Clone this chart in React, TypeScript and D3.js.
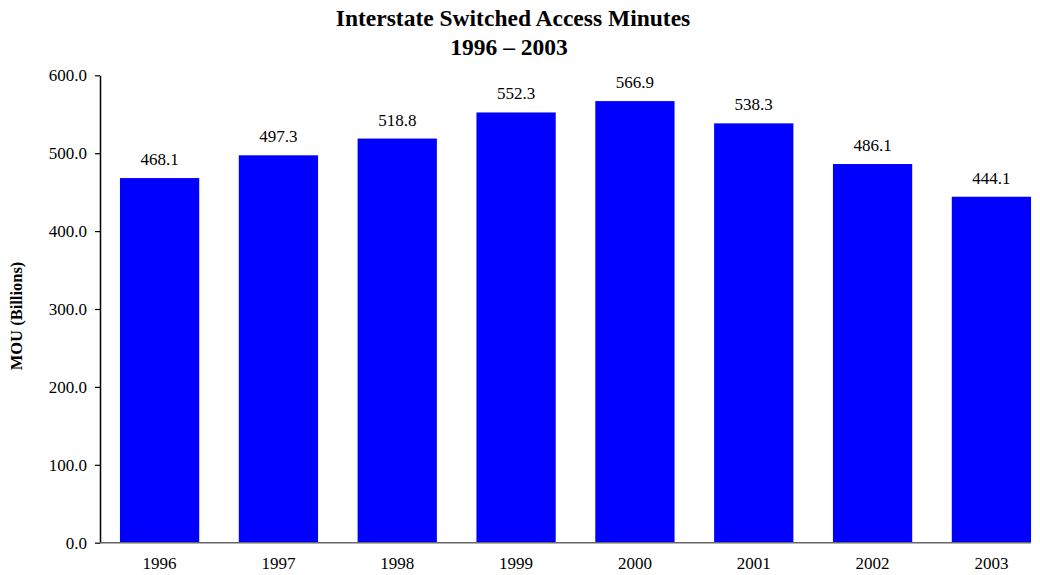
import React, { useEffect, useRef } from 'react';
import * as d3 from 'd3';

const years = ['1996', '1997', '1998', '1999', '2000', '2001', '2002', '2003'];
const minutes = [468.1, 497.3, 518.8, 552.3, 566.9, 538.3, 486.1, 444.1];
const yTicks = [0, 100, 200, 300, 400, 500, 600];

const App = () => {
  const ref = useRef<SVGSVGElement>(null);

  useEffect(() => {
    const width = 1040;
    const height = 575;
    const font = '"Liberation Serif", "Times New Roman", serif';
    const svg = d3.select(ref.current);
    svg.selectAll('*').remove();

    const x = d3.scaleBand()
      .domain(years)
      .range([100, 1051])
      .paddingInner(0.333)
      .paddingOuter(0.168);
    const y = d3.scaleLinear().domain([0, 600]).range([542.7, 75.3]);

    // title
    svg.append('text')
      .attr('x', 513).attr('y', 26)
      .attr('text-anchor', 'middle')
      .attr('font-family', font).attr('font-weight', 'bold').attr('font-size', 23.5)
      .text('Interstate Switched Access Minutes');
    svg.append('text')
      .attr('x', 509).attr('y', 55)
      .attr('text-anchor', 'middle')
      .attr('font-family', font).attr('font-weight', 'bold').attr('font-size', 23.5)
      .text('1996 – 2003');

    // bars
    svg.append('g')
      .selectAll('rect')
      .data(minutes)
      .join('rect')
      .attr('x', (d, i) => x(years[i])!)
      .attr('y', d => y(d))
      .attr('width', x.bandwidth())
      .attr('height', d => y(0) - y(d))
      .attr('fill', '#0000ff');

    // value labels
    svg.append('g')
      .attr('text-anchor', 'middle')
      .attr('font-family', font).attr('font-size', 17)
      .selectAll('text')
      .data(minutes)
      .join('text')
      .attr('x', (d, i) => x(years[i])! + x.bandwidth() / 2)
      .attr('y', d => y(d) - 13)
      .text(d => d.toFixed(1));

    // y axis
    const yAxis = svg.append('g')
      .attr('transform', 'translate(100,0)')
      .call(d3.axisLeft(y).tickValues(yTicks).tickSize(5).tickSizeOuter(0).tickFormat(d => (+d).toFixed(1)));
    yAxis.select('.domain').attr('stroke', '#000').attr('stroke-width', 1.5);
    yAxis.selectAll('.tick line').attr('stroke', '#000').attr('stroke-width', 1.2);
    yAxis.selectAll('.tick text')
      .attr('font-family', font).attr('font-size', 17).attr('fill', '#000').attr('x', -13);

    // x axis baseline
    const last = years[years.length - 1];
    svg.append('line')
      .attr('x1', 100).attr('x2', x(last)! + x.bandwidth())
      .attr('y1', y(0)).attr('y2', y(0))
      .attr('stroke', '#666').attr('stroke-width', 1.5);

    svg.append('g')
      .attr('text-anchor', 'middle')
      .attr('font-family', font).attr('font-size', 17)
      .selectAll('text')
      .data(years)
      .join('text')
      .attr('x', d => x(d)! + x.bandwidth() / 2)
      .attr('y', 569)
      .text(d => d);

    // y label
    svg.append('text')
      .attr('transform', 'translate(22,316) rotate(-90)')
      .attr('text-anchor', 'middle')
      .attr('font-family', font).attr('font-weight', 'bold').attr('font-size', 16.5)
      .text('MOU (Billions)');

    svg.attr('width', width).attr('height', height);
  }, []);

  return (
    <div style={{ position: 'absolute', left: 0, top: 0 }}>
      <svg ref={ref} width={1040} height={575} style={{ display: 'block', background: '#fff' }} />
    </div>
  );
};

export default App;
